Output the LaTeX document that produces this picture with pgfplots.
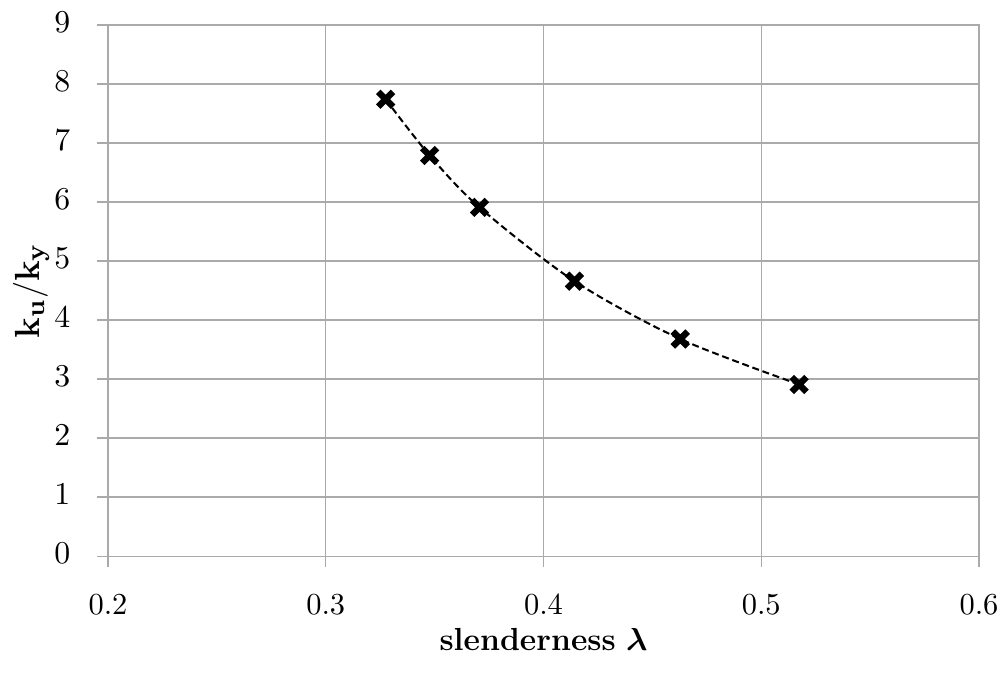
\documentclass[border=0pt]{standalone}
\usepackage{amsmath}
\usepackage{pgfplots}
\pgfplotsset{compat=1.18}
\definecolor{gridc}{RGB}{170,170,170}
\definecolor{axc}{RGB}{140,140,140}
\begin{document}
\begin{tikzpicture}
\begin{axis}[
  scale only axis,
  width=300pt, height=183pt,
  xmin=0.2, xmax=0.6, ymin=0, ymax=9,
  xtick={0.2,0.3,0.4,0.5,0.6},
  ytick={0,1,...,9},
  xticklabels={0.2,0.3,0.4,0.5,0.6},
  grid=major,
  grid style={gridc, line width=0.5pt},
  axis line style={gridc, line width=0.5pt},
  x axis line style={axc},
  tick align=outside,
  tick pos=left,
  major tick length=3.8pt,
  tick style={gridc, line width=0.5pt},
  xticklabel style={yshift=-5.6pt},
  yticklabel style={xshift=-5.7pt, yshift=1pt},
  xlabel={\textbf{slenderness} $\boldsymbol{\lambda}$},
  ylabel={$\mathbf{k_u/k_y}$},
  xlabel style={at={(axis description cs:0.5,-0.1563)}, anchor=center, font=\fontsize{11}{13}\selectfont},
  ylabel style={at={(axis description cs:-0.0883,0.5)}, anchor=center, font=\fontsize{12.5}{15}\selectfont},
  ticklabel style={font=\fontsize{10.5}{12}\selectfont},
  clip=false,
]
\addplot[black, dash pattern=on 2.4pt off 1.3pt, line width=0.7pt, smooth, tension=0.5,
  mark=x, mark size=3.6pt, mark options={solid, line width=2.2pt}]
  coordinates {
    (0.3275,7.74)
    (0.3477,6.79)
    (0.3706,5.91)
    (0.4142,4.66)
    (0.4628,3.68)
    (0.5174,2.91)
  };
\coordinate (sw) at (rel axis cs:0,0);
\coordinate (ne) at (rel axis cs:1,1);
\end{axis}
\pgfresetboundingbox
\path ([shift={(-37.2pt,-44.4pt)}]sw) rectangle ([shift={(9.3pt,8.6pt)}]ne);
\end{tikzpicture}
\end{document}
